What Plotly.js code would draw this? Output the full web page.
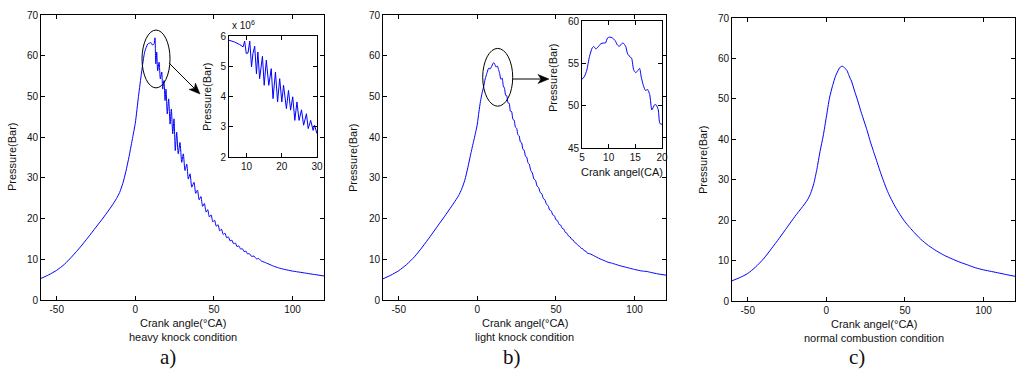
<!DOCTYPE html>
<html>
<head>
<meta charset="utf-8">
<script src="https://cdn.plot.ly/plotly-3.0.1.min.js"></script>
<style>html,body{margin:0;padding:0;background:#fff;}#chart{width:1019px;height:374px;}</style>
</head>
<body>
<div id="chart"></div>
<script>
// ---------- DATA ----------
// a) heavy knock condition (main)
const heavyAngle = [-60,-55,-50,-45,-40,-35,-30,-25,-20,-15,-12,-10,-8,-6,-4,-2,0,2,4,6,8,10,11,12,12.5,13,
  13.6,14.2,15.1,15.9,16.8,17.4,18.2,18.9,19.5,20.3,21.2,22.1,22.9,23.8,24.6,25.4,26.3,27.3,28.4,29.5,30.5,31.6,32.7,33.7,34.8,35.9,37.3,38.4,39.5,40.6,41.7,42.8,43.9,45,46,47.1,48.2,49.3,50.4,51.5,52.6,53.7,54.8,55.9,57,58.1,59.2,60.3,61.4,62.5,63.6,64.7,65.8,67,68.1,69.2,70.3,71.4,72.5,74,75.5,77,78.5,80,82,85,88,91,95,100,105,110,115,120];
const heavyPressure = [5.3,6.2,7.3,8.8,10.8,13.0,15.4,17.9,20.4,23.1,24.9,26.4,28.6,31.6,35.2,39.3,43.5,50,56,61,62.9,63.2,62.6,63,64.4,58,
  60.9,56.3,58.4,54.3,56,51.8,53.9,49,51.8,45.7,49.4,43.2,46.9,40.8,44.5,36.7,41.2,35.9,38.7,33.8,35.9,31.8,33.4,29.7,31,27.7,28.9,26.2,27.0,24.6,25.4,23.0,23.7,21.6,22.2,20.4,20.9,19.2,19.6,18.1,18.5,17.0,17.4,16.1,16.4,15.3,15.5,14.5,14.7,13.8,14.0,13.1,13.3,12.5,12.6,11.9,12.0,11.3,11.4,10.7,10.8,10.1,10.2,9.6,9.3,8.8,8.3,7.9,7.5,7.1,6.8,6.5,6.2,5.9];
// a) inset (x 10^6)
const heavyInsetAngle = [5.0,6.6,8.0,9.0,9.45,9.9,10.4,10.9,11.4,11.8,12.3,12.8,13.2,13.7,14.5,15.0,15.6,16.3,17.0,17.5,18.2,18.8,19.4,20.0,20.5,21.3,21.9,22.5,23.1,23.7,24.3,24.9,25.6,26.2,27.0,27.5,28.2,28.9,29.3,30.0];
const heavyInsetPressure = [5.86,5.80,5.72,5.64,5.83,5.42,5.44,5.83,4.98,5.42,5.66,4.75,5.47,4.59,5.33,4.37,5.2,4.37,4.92,3.93,4.81,3.82,4.59,3.82,4.37,3.6,4.2,3.55,3.99,3.21,3.82,3.21,3.56,3.05,3.43,2.94,3.21,2.88,3.05,2.77];

// b) light knock condition (main)
const lightAngle = [-60,-55,-50,-45,-40,-35,-30,-25,-20,-15,-12,-10,-8,-6,-4,-2,-1,0,1,2,3,4,5,6,7,7.5,8,9,10,10.5,11,12,12.7,13.5,14.2,15,15.8,16.5,17.3,18,18.7,19.5,20.3,21,21.8,22.6,23.4,24.2,25,25.8,26.6,27.4,28.2,29,29.8,30.6,31.4,32.2,33,34,35,36,37,38,39,40,41,42,43,44,45,46,47,48,49,50,51,52,53,54,55,56,57,58,59,60,61,62,63,64,65,66,67,68,69,70,72,74,76,78,80,83,86,90,95,97,100,105,108,110,115,120];
const lightPressure = [5.2,6.1,7.2,8.7,10.6,13.0,15.6,18.3,21.0,23.8,25.6,27.2,29.4,32.6,36.2,39.6,41.3,43.2,46.2,48.8,50.8,52.4,54.3,55.6,56.8,57.0,56.7,57.3,58.1,58.3,58.0,57.2,57.5,56.6,55.6,54.2,54.5,52.6,52.0,50.3,50.2,48.4,48.3,46.4,46.3,44.4,44.2,42.5,42.2,40.6,40.3,38.8,38.6,37.0,36.8,35.3,35.1,33.7,33.4,31.8,31.2,29.7,29.4,28.0,27.6,26.4,26.1,24.9,24.6,23.5,23.2,22.1,21.9,20.9,20.7,19.7,19.5,18.6,18.4,17.6,17.4,16.6,16.4,15.7,15.5,14.9,14.7,14.1,13.9,13.4,13.2,12.7,12.6,12.1,12.0,11.5,11.3,10.9,10.5,10.1,9.8,9.3,9.0,8.5,8.0,7.8,7.5,7.1,7.0,6.8,6.4,6.1];
// b) inset
const lightInsetAngle = [5.0,5.5,5.9,6.4,6.9,7.2,7.6,8.1,8.5,9.0,9.4,9.8,10.2,10.7,11.2,11.6,12.0,12.4,12.7,13.2,13.5,13.8,14.3,14.7,15.1,15.4,15.8,16.1,16.5,16.9,17.3,17.7,18.1,18.6,18.9,19.3,19.6,20.0];
const lightInsetPressure = [53.1,53.5,54.2,55.8,56.8,57.0,56.7,57.0,57.3,57.4,57.4,58.0,58.1,58.0,57.7,57.2,57.0,57.3,57.4,57.0,56.2,55.9,55.6,54.2,53.9,54.1,54.4,53.4,52.4,51.8,51.9,51.3,49.5,50.1,50.1,49.5,47.9,47.8];

// c) normal combustion condition
const normalAngle = [-60,-55,-50,-45,-40,-35,-30,-25,-20,-15,-12,-10,-8,-6,-4,-2,0,2,4,6,8,9,10,11,12,13,14,15,16,18,20,22,24,26,28,30,32,34,36,38,40,43,46,50,53,56,60,65,70,75,80,85,90,95,100,105,110,115,120];
const normalPressure = [5.0,5.8,6.8,8.4,10.4,12.9,15.5,18.2,20.9,23.4,25.0,26.6,29.0,32.6,37.0,40.8,45.5,50.2,53.3,55.8,57.4,57.9,58.1,57.9,57.5,57.1,56.2,55.2,54.4,51.9,49.5,46.9,44.5,42.1,39.4,37.0,34.7,32.3,30.1,28.0,26.2,23.9,21.9,19.6,18.2,16.9,15.3,13.7,12.4,11.3,10.4,9.6,8.9,8.2,7.7,7.3,6.9,6.5,6.1];

const mainXTicks = [-50, 0, 50, 100];
const mainYTicks = [0, 10, 20, 30, 40, 50, 60, 70];
const insetAXTicks = [10, 20, 30];
const insetAYTicks = [2, 3, 4, 5, 6];
const insetBXTicks = [5, 10, 15, 20];
const insetBYTicks = [45, 50, 55, 60];

// ---------- LAYOUT ----------
const W = 1019, H = 374;
const px = v => v / W;
const py = v => 1 - v / H;
const FONT = 'Liberation Sans, Arial, sans-serif';
const lineStyle = {color: '#0000ff', width: 1, shape: 'spline', smoothing: 0.6};

function axis(domain, range, ticks, extra) {
  return Object.assign({
    domain: domain, range: range, tickvals: ticks, ticktext: ticks.map(String),
    showline: true, linecolor: '#000', linewidth: 1, mirror: 'ticks',
    ticks: 'inside', ticklen: 4, tickcolor: '#000', tickwidth: 1,
    showgrid: false, zeroline: false, fixedrange: true,
    tickfont: {family: FONT, size: 10, color: '#111'}
  }, extra || {});
}

const traces = [
  {x: heavyAngle, y: heavyPressure, xaxis: 'x', yaxis: 'y', mode: 'lines', line: lineStyle},
  {x: lightAngle, y: lightPressure, xaxis: 'x2', yaxis: 'y2', mode: 'lines', line: lineStyle},
  {x: normalAngle, y: normalPressure, xaxis: 'x3', yaxis: 'y3', mode: 'lines', line: lineStyle},
  {x: heavyInsetAngle, y: heavyInsetPressure, xaxis: 'x4', yaxis: 'y4', mode: 'lines', line: {color: '#0000ff', width: 1}},
  {x: lightInsetAngle, y: lightInsetPressure, xaxis: 'x5', yaxis: 'y5', mode: 'lines', line: lineStyle}
];

function ann(text, x, y, size, extra) {
  return Object.assign({text: text, x: px(x), y: py(y), xref: 'paper', yref: 'paper',
    showarrow: false, xanchor: 'center', yanchor: 'middle',
    font: {family: FONT, size: size, color: '#111'}}, extra || {});
}
const serif = {font: {family: 'Liberation Serif, Times New Roman, serif', size: 21, color: '#111'}};

const annotations = [
  ann('Pressure(Bar)', 12, 157, 11, {textangle: -90}),
  ann('Pressure(Bar)', 353, 158, 11, {textangle: -90}),
  ann('Pressure(Bar)', 703, 160, 11, {textangle: -90}),
  ann('Pressure(Bar)', 207, 97, 11, {textangle: -90}),
  ann('Pressure(Bar)', 553, 78, 11, {textangle: -90}),
  ann('Crank angle(°CA)', 182.5, 323, 11),
  ann('heavy knock condition', 182.5, 337, 11),
  ann('Crank angel(°CA)', 524.5, 323, 11),
  ann('light knock condition', 524.5, 337, 11),
  ann('Crank angel(°CA)', 873.5, 324, 11),
  ann('normal combustion condition', 873.5, 338, 11),
  ann('Crank angel(CA)', 622, 172, 11),
  ann('x 10<sup>6</sup>', 230, 25, 10, {xanchor: 'left'}),
  ann('a)', 168, 357, 21, serif),
  ann('b)', 512, 357, 21, serif),
  ann('c)', 857, 357, 21, serif)
];

// arrow helper: line + filled head, in pixel positions converted to paper
function arrowShapes(x0, y0, x1, y1) {
  const dx = x1 - x0, dy = y1 - y0, L = Math.hypot(dx, dy);
  const ux = dx / L, uy = dy / L, nx = -uy, ny = ux;
  const headL = 11, headW = 4.5, notch = 3;
  const bx = x1 - ux * headL, by = y1 - uy * headL;
  const mx = x1 - ux * (headL - notch), my = y1 - uy * (headL - notch);
  const p = (a, b) => px(a) + ',' + py(b);
  return [
    {type: 'line', xref: 'paper', yref: 'paper', x0: px(x0), y0: py(y0), x1: px(mx), y1: py(my),
     line: {color: '#000', width: 1}},
    {type: 'path', xref: 'paper', yref: 'paper',
     path: 'M' + p(x1, y1) + ' L' + p(bx + nx * headW, by + ny * headW) + ' L' + p(mx, my) +
           ' L' + p(bx - nx * headW, by - ny * headW) + ' Z',
     fillcolor: '#000', line: {color: '#000', width: 0.5}}
  ];
}

const shapes = [
  {type: 'circle', xref: 'x', yref: 'y', x0: 4.25, x1: 22.06, y0: 52.1, y1: 66.3, line: {color: '#000', width: 1}},
  {type: 'circle', xref: 'x2', yref: 'y2', x0: 3.42, x1: 22.5, y0: 47.6, y1: 61.8, line: {color: '#000', width: 1}}
].concat(arrowShapes(169, 63, 200, 94), arrowShapes(513, 79, 549, 79));

const layout = {
  width: W, height: H, autosize: false, showlegend: false,
  margin: {l: 0, r: 0, t: 0, b: 0, pad: 0},
  paper_bgcolor: '#fff', plot_bgcolor: '#fff',
  xaxis:  axis([px(41), px(324)], [-60, 120], mainXTicks, {anchor: 'y'}),
  yaxis:  axis([py(300), py(15)], [0, 70], mainYTicks, {anchor: 'x'}),
  xaxis2: axis([px(383), px(666)], [-60, 120], mainXTicks, {anchor: 'y2'}),
  yaxis2: axis([py(300), py(15)], [0, 70], mainYTicks, {anchor: 'x2'}),
  xaxis3: axis([px(732), px(1015)], [-60, 120], mainXTicks, {anchor: 'y3'}),
  yaxis3: axis([py(301), py(18)], [0, 70], mainYTicks, {anchor: 'x3'}),
  xaxis4: axis([px(229), px(317)], [5, 30], insetAXTicks, {anchor: 'y4'}),
  yaxis4: axis([py(157), py(36)], [2, 6], insetAYTicks, {anchor: 'x4'}),
  xaxis5: axis([px(582), px(662)], [5, 20], insetBXTicks, {anchor: 'y5'}),
  yaxis5: axis([py(148), py(21)], [45, 60], insetBYTicks, {anchor: 'x5'}),
  annotations: annotations,
  shapes: shapes
};

Plotly.newPlot('chart', traces, layout, {displayModeBar: false, staticPlot: true});
</script>
</body>
</html>
